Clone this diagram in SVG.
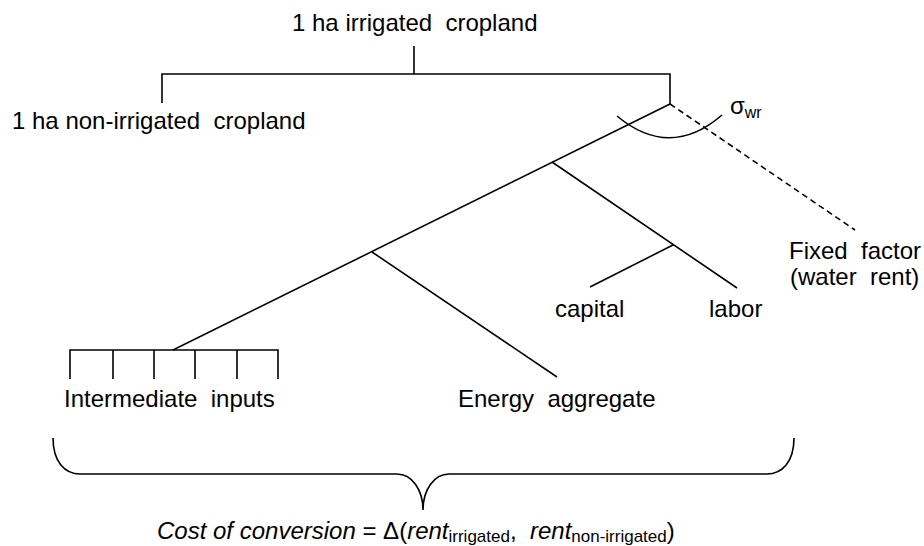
<svg xmlns="http://www.w3.org/2000/svg" width="924" height="546" viewBox="0 0 924 546" xml:space="preserve">
<style>
.t{font-family:"Liberation Sans",Arial,sans-serif;font-size:24px;fill:#000;white-space:pre}
.ln{stroke:#000;stroke-width:1.6;fill:none;stroke-linecap:butt}
.ds{stroke:#000;stroke-width:1.6;fill:none;stroke-dasharray:6 4}
.sub{font-size:16px}
.sub2{font-size:17px}
.it{font-style:italic}
</style>
<rect width="924" height="546" fill="#fff"/>
<g id="connectors">
<path class="ln" d="M414,46 V74 M162,103 V74 H670 V104"/>
<path class="ln" d="M670,104 L173,350"/>
<path class="ds" d="M670,104 L855,230"/>
<path class="ln" d="M617,116 Q670,160 722,115" stroke-width="1.3"/>
<path class="ln" d="M552,162 L737,288 M673,245 L590,287"/>
<path class="ln" d="M372,252 L557,377"/>
<path class="ln" d="M70,379 V350 H278 V379 M113,350 V379 M154,350 V379 M195,350 V379 M237,350 V379"/>
<path class="ln" d="M53,438 C53,462 65,474 80,474 L397,474 C412,474 423,490 423,510 C423,490 434,474 449,474 L767,474 C782,474 794,462 794,438"/>
</g>
<g id="top"><text class="t" x="292" y="31">1 ha irrigated  cropland</text></g>
<g id="nonirrigated"><text class="t" x="12" y="129" font-size="24.5">1 ha non-irrigated  cropland</text></g>
<g id="sigma"><text class="t" x="730" y="114">σ<tspan class="sub" dy="4">wr</tspan></text></g>
<g id="fixed"><text class="t" x="789" y="259">Fixed  factor</text><text class="t" x="790" y="285">(water  rent)</text></g>
<g id="capital"><text class="t" x="555" y="317">capital</text></g>
<g id="labor"><text class="t" x="709" y="317">labor</text></g>
<g id="intermediate"><text class="t" x="64" y="407" font-size="24.4">Intermediate  inputs</text></g>
<g id="energy"><text class="t" x="458" y="407">Energy  aggregate</text></g>
<g id="cost"><text class="t" x="157" y="539" font-size="25"><tspan class="it">Cost of conversion</tspan> = Δ(<tspan class="it">rent</tspan><tspan class="sub2" dy="3">irrigated</tspan><tspan dy="-3">,  </tspan><tspan class="it">rent</tspan><tspan class="sub2" dy="3">non-irrigated</tspan><tspan dy="-3">)</tspan></text></g>
</svg>
